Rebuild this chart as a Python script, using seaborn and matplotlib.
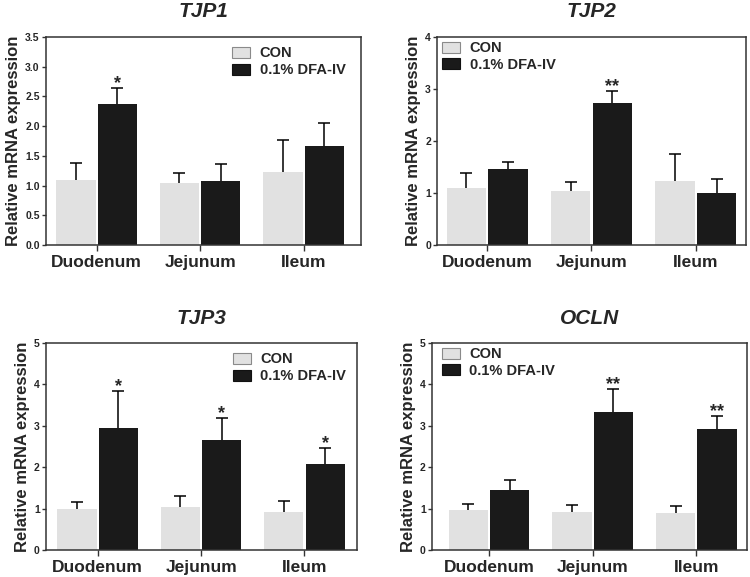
import pandas as pd
import matplotlib.pyplot as plt
import seaborn as sns

# Relative mRNA expression of tight junction genes, mean + SEM

segments = ['Duodenum', 'Jejunum', 'Ileum']
groups = ['CON', '0.1% DFA-IV']

tjp1_con = [1.09, 1.04, 1.23]
tjp1_con_err = [0.30, 0.18, 0.53]
tjp1_dfa = [2.37, 1.08, 1.67]
tjp1_dfa_err = [0.27, 0.28, 0.39]
tjp1_stars = ['*', '', '']

tjp2_con = [1.09, 1.04, 1.23]
tjp2_con_err = [0.30, 0.18, 0.53]
tjp2_dfa = [1.47, 2.74, 1.01]
tjp2_dfa_err = [0.13, 0.22, 0.26]
tjp2_stars = ['', '**', '']

tjp3_con = [1.00, 1.05, 0.92]
tjp3_con_err = [0.16, 0.25, 0.26]
tjp3_dfa = [2.94, 2.66, 2.07]
tjp3_dfa_err = [0.89, 0.52, 0.39]
tjp3_stars = ['*', '*', '*']

ocln_con = [0.96, 0.92, 0.90]
ocln_con_err = [0.16, 0.165, 0.16]
ocln_dfa = [1.455, 3.34, 2.93]
ocln_dfa_err = [0.235, 0.55, 0.31]
ocln_stars = ['', '**', '**']

light = '#e1e1e1'
dark = '#1a1a1a'
frame = '#333333'

sns.set_style('ticks')
plt.rcParams['font.family'] = ['Liberation Sans', 'DejaVu Sans']
plt.rcParams['font.weight'] = 'bold'


def plot_panel(ax, title, con, con_err, dfa, dfa_err, stars, ylim, yticks, ytick_fmt, xlim, leg_anchor):

    df = pd.DataFrame({
        'segment': segments * 2,
        'group': [groups[0]] * 3 + [groups[1]] * 3,
        'value': con + dfa,
    })

    sns.barplot(data=df, x='segment', y='value', hue='group', order=segments, hue_order=groups,
                palette=[light, dark], errorbar=None, width=0.8, gap=0.05, linewidth=0,
                saturation=1, ax=ax, zorder=2)

    # one-sided error bars (upper half only)
    for container, errs in zip(ax.containers, [con_err, dfa_err]):
        xs = [b.get_x() + b.get_width() / 2 for b in container]
        hs = [b.get_height() for b in container]
        eb = ax.errorbar(xs, hs, yerr=[[0] * len(errs), errs], fmt='none', ecolor='black',
                         elinewidth=1.1, capsize=4.3, capthick=1.1, zorder=1)
        eb[1][0].set_visible(False)

    # significance marks above the treated bars
    for bar, e, s in zip(ax.containers[1], dfa_err, stars):
        if s:
            ax.annotate(s, (bar.get_x() + bar.get_width() / 2, bar.get_height() + e),
                        xytext=(0, 0), textcoords='offset points', ha='center', va='baseline',
                        fontsize=13, fontweight='bold')

    ax.set_title(title, fontsize=15, fontweight='bold', style='italic', pad=14)
    ax.set_ylim(*ylim)
    ax.set_xlim(*xlim)
    ax.set_yticks(yticks)
    ax.set_yticklabels([ytick_fmt.format(t) for t in yticks], fontsize=7.5, fontweight='bold')
    ax.set_xticks(range(len(segments)))
    ax.set_xticklabels(segments, fontsize=12.5, fontweight='bold')
    ax.set_xlabel('')
    ax.set_ylabel('Relative mRNA expression', fontsize=12, fontweight='bold', labelpad=3)

    for sp in ax.spines.values():
        sp.set_visible(True)
        sp.set_color(frame)
        sp.set_linewidth(1.1)
    ax.tick_params(axis='y', direction='out', length=3, width=1, pad=1.5, color=frame)
    ax.tick_params(axis='x', direction='out', length=4, width=1, pad=3, color=frame)

    leg = ax.legend(loc='upper left', bbox_to_anchor=leg_anchor, frameon=False,
                    handlelength=1.25, handleheight=0.78, handletextpad=0.65, labelspacing=0.2,
                    borderaxespad=0, borderpad=0, prop={'weight': 'bold', 'size': 10.5})
    for p, ec in zip(leg.get_patches(), ['#8a8a8a', '#111111']):
        p.set_edgecolor(ec)
        p.set_linewidth(0.8)


fig = plt.figure(figsize=(7.5, 5.77), dpi=100)
ax1 = fig.add_axes([0.0613, 0.575, 0.420, 0.361])
ax2 = fig.add_axes([0.583, 0.575, 0.412, 0.361])
ax3 = fig.add_axes([0.0613, 0.0468, 0.415, 0.3588])
ax4 = fig.add_axes([0.576, 0.0468, 0.420, 0.3588])

plot_panel(ax1, 'TJP1', tjp1_con, tjp1_con_err, tjp1_dfa, tjp1_dfa_err, tjp1_stars,
           (0, 3.5), [0, 0.5, 1, 1.5, 2, 2.5, 3, 3.5], '{:.1f}', (-0.49, 2.555), (0.59, 0.955))
plot_panel(ax2, 'TJP2', tjp2_con, tjp2_con_err, tjp2_dfa, tjp2_dfa_err, tjp2_stars,
           (0, 4), [0, 1, 2, 3, 4], '{:.0f}', (-0.48, 2.485), (0.015, 0.98))
plot_panel(ax3, 'TJP3', tjp3_con, tjp3_con_err, tjp3_dfa, tjp3_dfa_err, tjp3_stars,
           (0, 5), [0, 1, 2, 3, 4, 5], '{:.0f}', (-0.50, 2.51), (0.60, 0.955))
plot_panel(ax4, 'OCLN', ocln_con, ocln_con_err, ocln_dfa, ocln_dfa_err, ocln_stars,
           (0, 5), [0, 1, 2, 3, 4, 5], '{:.0f}', (-0.55, 2.49), (0.031, 0.98))

fig.savefig('out.png', dpi=100)
